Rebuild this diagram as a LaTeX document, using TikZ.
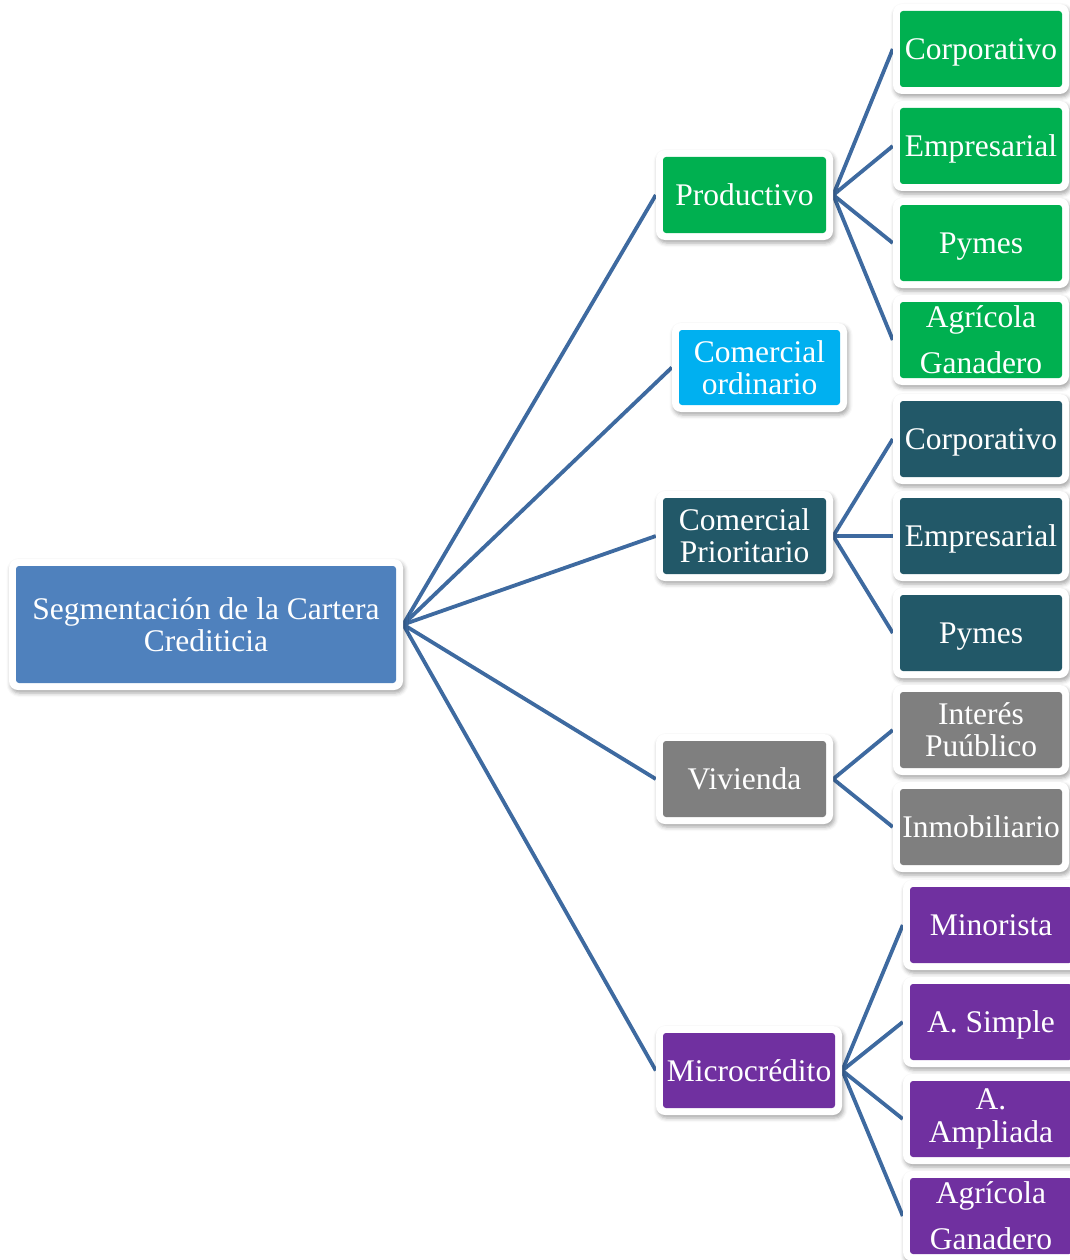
\documentclass[tikz,border=0pt]{standalone}
\usepackage{fontspec}
\setmainfont{Liberation Serif}
\usetikzlibrary{shadows.blur,backgrounds}
\definecolor{cgreen}{RGB}{0,176,80}
\definecolor{ccyan}{RGB}{0,176,240}
\definecolor{cteal}{RGB}{34,88,104}
\definecolor{cgray}{RGB}{127,127,127}
\definecolor{cpurple}{RGB}{112,48,160}
\definecolor{croot}{RGB}{79,129,189}
\definecolor{cline}{RGB}{62,106,160}
\tikzset{
  frame/.style={fill=white, rounded corners=9pt, inner sep=0pt,
    blur shadow={shadow xshift=1.5pt, shadow yshift=-3pt, shadow blur radius=4pt, shadow opacity=35}},
  cell/.style={rounded corners=3pt, text=white, inner sep=0pt, align=center,
    font=\fontsize{31.5}{32}\selectfont},
  oneline/.style={text height=21pt, text depth=0pt},
  leafcell/.style={cell, minimum width=162pt, minimum height=76pt},
  midcell/.style={cell, minimum width=163pt, minimum height=76pt},
  leafframe/.style={frame, minimum width=176pt, minimum height=90pt},
  midframe/.style={frame, minimum width=177pt, minimum height=90pt},
  link/.style={draw=cline, line width=3.8pt}
}
\begin{document}
\begin{tikzpicture}[x=1pt,y=-1pt]
\useasboundingbox (0,0) rectangle (1070,1260);
\clip (0,0) rectangle (1070,1260);
% root
\node[frame, minimum width=394pt, minimum height=131pt] (root) at (206,624.5) {};
\node[cell, fill=croot, minimum width=380pt, minimum height=117pt] (rooti) at (root) {Segmentación de la Cartera\\Crediticia};
% level 1
\node[midframe] (prod) at (744.5,195) {};
\node[midcell, oneline, fill=cgreen] (prodi) at (prod) {Productivo};
\node[frame, minimum width=175pt, minimum height=89pt] (cord) at (759.5,367.5) {};
\node[cell, fill=ccyan, minimum width=161pt, minimum height=75pt] (cordi) at (cord) {Comercial\\ordinario};
\node[midframe] (cpri) at (744.5,536) {};
\node[midcell, fill=cteal] (cprii) at (cpri) {Comercial\\Prioritario};
\node[midframe] (viv) at (744.5,779) {};
\node[midcell, oneline, fill=cgray] (vivi) at (viv) {Vivienda};
\node[frame, minimum width=186pt, minimum height=89pt] (mic) at (749,1070.5) {};
\node[cell, oneline, fill=cpurple, minimum width=172pt, minimum height=75pt] (mici) at (mic) {Microcrédito};
% productivo leaves
\node[leafframe] (p1) at (981,49) {};
\node[leafcell, oneline, fill=cgreen] (p1i) at (p1) {Corporativo};
\node[leafframe] (p2) at (981,146) {};
\node[leafcell, oneline, fill=cgreen] (p2i) at (p2) {Empresarial};
\node[leafframe] (p3) at (981,243) {};
\node[leafcell, oneline, fill=cgreen] (p3i) at (p3) {Pymes};
\node[leafframe] (p4) at (981,340) {};
\node[leafcell, fill=cgreen, font=\fontsize{31.5}{46}\selectfont] (p4i) at (p4) {Agrícola\\Ganadero};
% comercial prioritario leaves
\node[leafframe] (c1) at (981,439) {};
\node[leafcell, oneline, fill=cteal] (c1i) at (c1) {Corporativo};
\node[leafframe] (c2) at (981,536) {};
\node[leafcell, oneline, fill=cteal] (c2i) at (c2) {Empresarial};
\node[leafframe] (c3) at (981,633) {};
\node[leafcell, oneline, fill=cteal] (c3i) at (c3) {Pymes};
% vivienda leaves
\node[leafframe] (v1) at (981,730) {};
\node[leafcell, fill=cgray] (v1i) at (v1) {Interés\\Puúblico};
\node[leafframe] (v2) at (981,827) {};
\node[leafcell, oneline, fill=cgray] (v2i) at (v2) {Inmobiliario};
% microcredito leaves
\node[leafframe] (m1) at (991,925) {};
\node[leafcell, oneline, fill=cpurple] (m1i) at (m1) {Minorista};
\node[leafframe] (m2) at (991,1022) {};
\node[leafcell, oneline, fill=cpurple] (m2i) at (m2) {A. Simple};
\node[leafframe] (m3) at (991,1119) {};
\node[leafcell, fill=cpurple, font=\fontsize{31.5}{33}\selectfont] (m3i) at (m3) {A.\\Ampliada};
\node[leafframe] (m4) at (991,1216) {};
\node[leafcell, fill=cpurple, font=\fontsize{31.5}{46}\selectfont] (m4i) at (m4) {Agrícola\\Ganadero};
% connectors
\begin{scope}[on background layer]
\foreach \c in {prod,cord,cpri,viv,mic} \draw[link] (root.east) -- (\c.west);
\foreach \c in {p1,p2,p3,p4} \draw[link] (prod.east) -- (\c.west);
\foreach \c in {c1,c2,c3} \draw[link] (cpri.east) -- (\c.west);
\foreach \c in {v1,v2} \draw[link] (viv.east) -- (\c.west);
\foreach \c in {m1,m2,m3,m4} \draw[link] (mic.east) -- (\c.west);
\end{scope}
\end{tikzpicture}
\end{document}
